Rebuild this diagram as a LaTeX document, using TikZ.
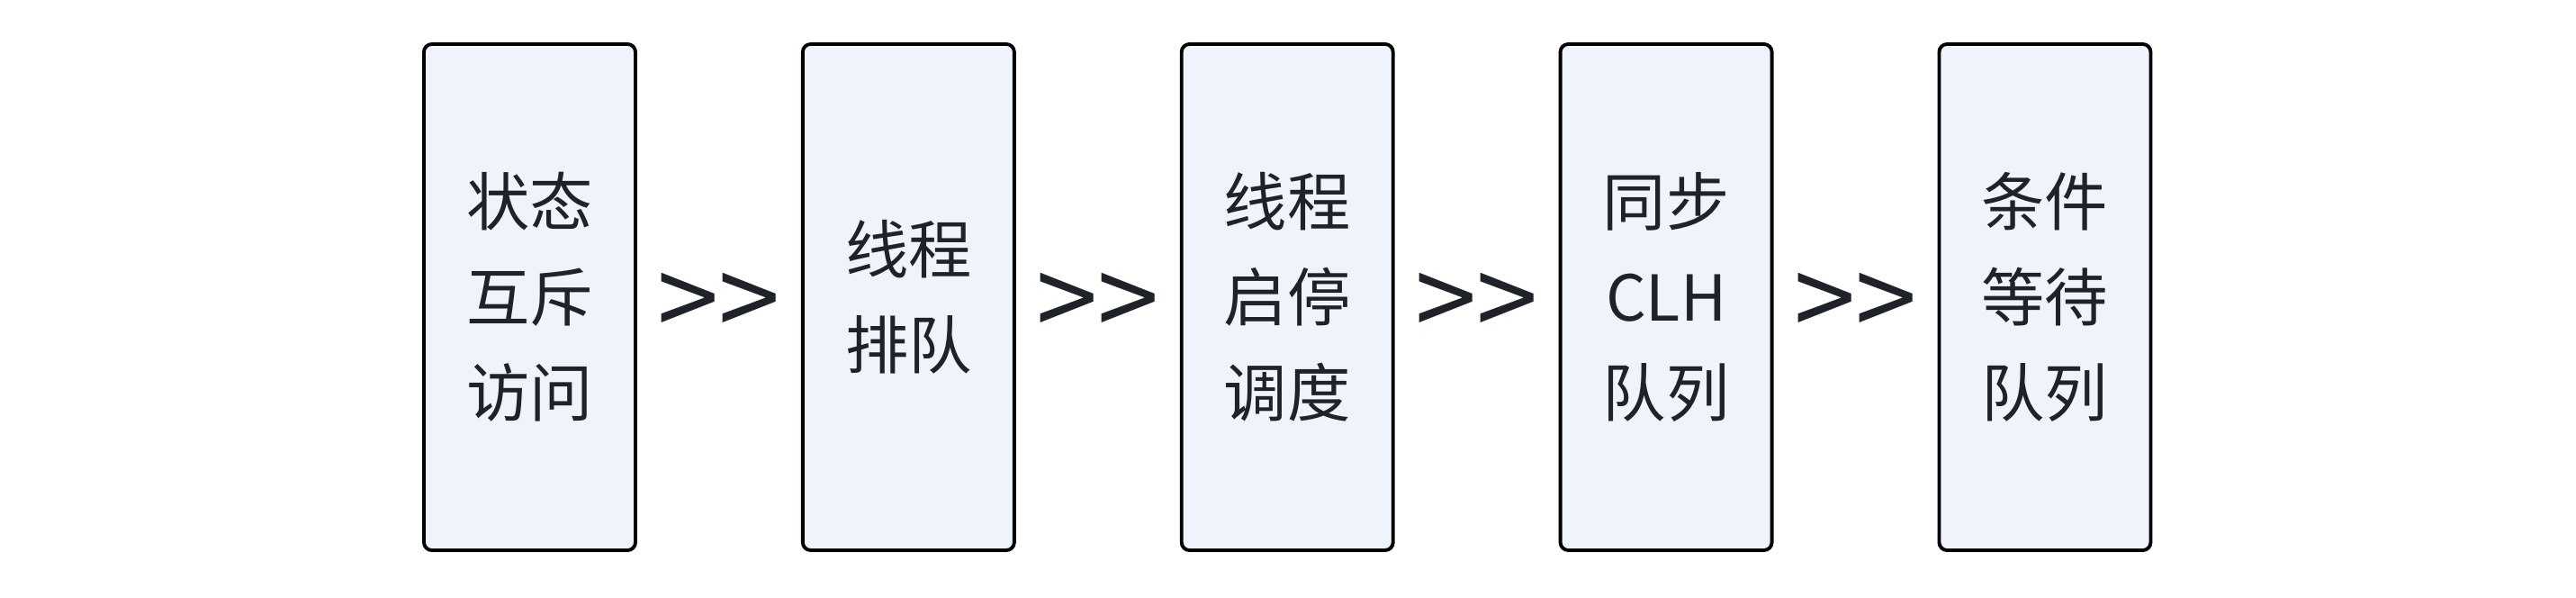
\documentclass[tikz,border=0pt]{standalone}
\usepackage{fontspec}
\newfontfamily\cjk{Noto Sans CJK SC}
\usetikzlibrary{positioning,calc}

\definecolor{boxfill}{RGB}{239,243,252}
\definecolor{inkgray}{RGB}{31,35,41}

\begin{document}
\begin{tikzpicture}[
  font=\cjk\fontsize{20}{30.1}\selectfont,
  stage/.style={
    draw=black, line width=1.1pt, rounded corners=2.5pt, fill=boxfill,
    text=inkgray, align=center, inner sep=0pt,
    minimum width=2.35cm, minimum height=5.62cm
  },
  sep/.style={text=inkgray, font=\cjk\fontsize{35}{35}\selectfont,
    inner sep=0pt, yshift=-0.1cm}
]
\useasboundingbox (0,0) rectangle (28.62,6.64);

% ---------- the five stages ----------
\node[stage] (state) at (5.885,3.34) {状态\\互斥\\访问};
\node[stage, right=1.82cm of state] (queue) {线程\\排队};
\node[stage, right=1.82cm of queue] (park)  {线程\\启停\\调度};
\node[stage, right=1.82cm of park]  (sync)  {同步\\CLH\\队列};
\node[stage, right=1.82cm of sync]  (cond)  {条件\\等待\\队列};

% ---------- separators between the stages ----------
\node[sep] (s1) at ($(state.east)!0.5!(queue.west)$) {>>};
\node[sep] (s2) at ($(queue.east)!0.5!(park.west)$)  {>>};
\node[sep] (s3) at ($(park.east)!0.5!(sync.west)$)   {>>};
\node[sep] (s4) at ($(sync.east)!0.5!(cond.west)$)   {>>};

\end{tikzpicture}
\end{document}
